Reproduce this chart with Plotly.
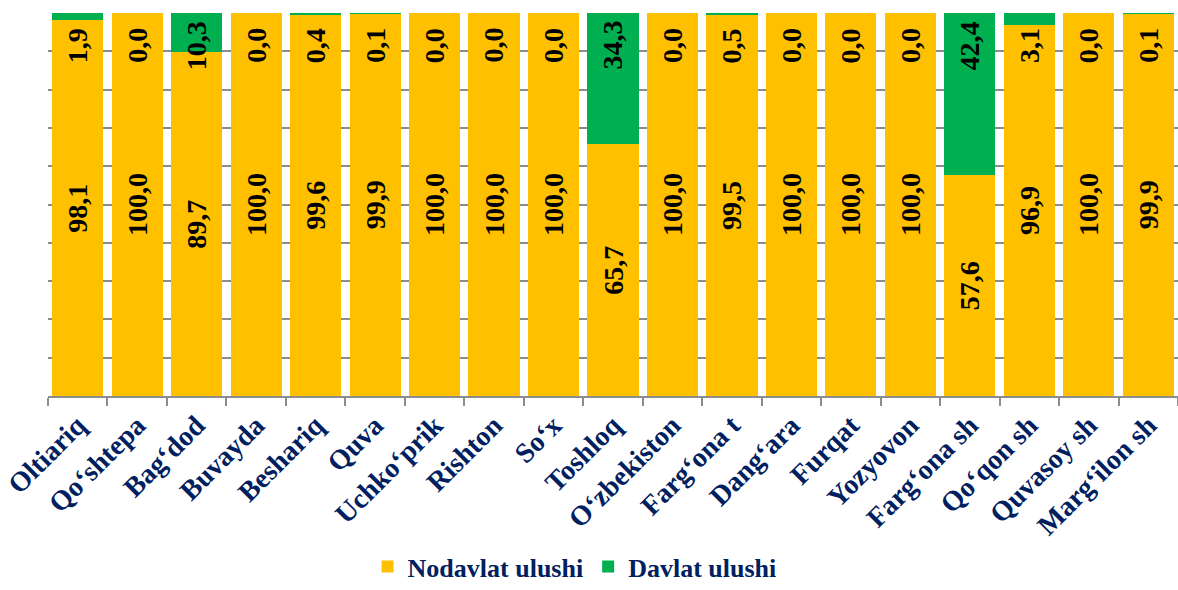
import plotly.graph_objects as go

categories = ["Oltiariq", "Qo‘shtepa", "Bag‘dod", "Buvayda", "Beshariq", "Quva",
              "Uchko‘prik", "Rishton", "So‘x", "Toshloq", "O‘zbekiston", "Farg‘ona t",
              "Dang‘ara", "Furqat", "Yozyovon", "Farg‘ona sh", "Qo‘qon sh",
              "Quvasoy sh", "Marg‘ilon sh"]
nodavlat = [98.1, 100.0, 89.7, 100.0, 99.6, 99.9, 100.0, 100.0, 100.0, 65.7,
            100.0, 99.5, 100.0, 100.0, 100.0, 57.6, 96.9, 100.0, 99.9]
davlat = [1.9, 0.0, 10.3, 0.0, 0.4, 0.1, 0.0, 0.0, 0.0, 34.3,
          0.0, 0.5, 0.0, 0.0, 0.0, 42.4, 3.1, 0.0, 0.1]

def fmt(v):
    return f"{v:.1f}".replace(".", ",")

FONT = "Liberation Serif, Times New Roman, serif"
NAVY = "#002060"
YELLOW = "#FFC000"
GREEN = "#00B050"

fig = go.Figure()
fig.add_trace(go.Bar(
    x=categories, y=nodavlat, name="Nodavlat ulushi",
    marker=dict(color=YELLOW, line=dict(width=0)),
    text=[fmt(v) for v in nodavlat], textposition="inside",
    insidetextanchor="middle", textangle=-90,
    textfont=dict(family=FONT, size=28, color="black", weight="bold"),
    cliponaxis=False,
))
fig.add_trace(go.Bar(
    x=categories, y=davlat, name="Davlat ulushi",
    marker=dict(color=GREEN, line=dict(width=0)),
    textposition="none",
))

for c, v in zip(categories, davlat):
    fig.add_annotation(x=c, y=91.5, text=fmt(v), showarrow=False, textangle=-90,
                       font=dict(family=FONT, size=28, color="black", weight="bold"))

fig.update_layout(
    width=1178, height=590,
    barmode="stack", bargap=0.14,
    plot_bgcolor="white", paper_bgcolor="white",
    margin=dict(l=48, r=0, t=13, b=194, autoexpand=False),
    font=dict(family=FONT, color=NAVY),
    showlegend=True,
    legend=dict(orientation="h", x=0.466, xanchor="center", y=-0.5065, yanchor="bottom",
                traceorder="normal", itemwidth=30,
                font=dict(family=FONT, size=26, color=NAVY, weight="bold")),
    xaxis=dict(
        type="category", tickangle=-45, tickson="boundaries", ticks="outside",
        ticklen=8, tickcolor="#8C8C8C", tickwidth=1.5, automargin=False,
        showline=True, linecolor="#8C8C8C", linewidth=1.5,
        tickfont=dict(family=FONT, size=28, color=NAVY, weight="bold"),
        showgrid=False,
    ),
    yaxis=dict(
        range=[0, 100], dtick=10, showticklabels=False, showline=False, automargin=False,
        showgrid=True, gridcolor="#8C8C8C", gridwidth=1.5, zeroline=False,
    ),
)

fig.write_html("out.html", config={"displayModeBar": False},
               post_script="document.body.style.margin='0';document.body.style.overflow='hidden';")
